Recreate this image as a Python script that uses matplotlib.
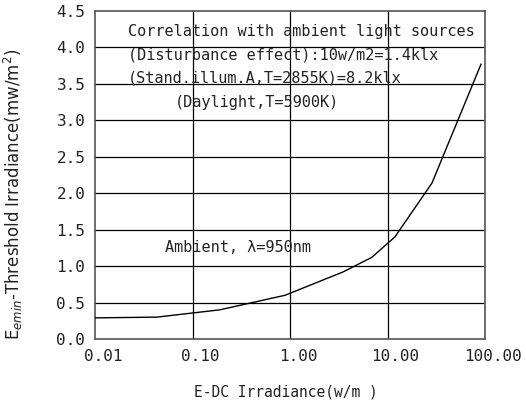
import matplotlib
matplotlib.use("Agg")
import matplotlib.pyplot as plt
import matplotlib.transforms as mtransforms

irradiance = [0.01, 0.043, 0.19, 0.89, 3.5, 6.9, 11.9, 28.6, 91]
threshold = [0.29, 0.30, 0.40, 0.60, 0.92, 1.12, 1.40, 2.14, 3.77]
x_ticks = [0.01, 0.1, 1, 10, 100]
x_labels = ["0.01", "0.10", "1.00", "10.00", "100.00"]
y_ticks = [0.0, 0.5, 1.0, 1.5, 2.0, 2.5, 3.0, 3.5, 4.0, 4.5]
y_labels = ["0.0", "0.5", "1.0", "1.5", "2.0", "2.5", "3.0", "3.5", "4.0", "4.5"]

plt.rcParams['font.family'] = ['DejaVu Sans Mono', 'DejaVu Sans']

fig = plt.figure(figsize=(5.26, 4.03), dpi=100)
ax = fig.add_axes([95/526, 1-339/403, 390/526, 328/403])
ax.set_xscale('log')
ax.set_xlim(0.01, 100)
ax.set_ylim(0, 4.5)

for y in y_ticks[1:-1]:
    ax.axhline(y, color='black', lw=0.9, zorder=1)
for x in x_ticks[1:-1]:
    ax.axvline(x, color='black', lw=0.9, zorder=1)

ax.plot(irradiance, threshold, color='black', lw=1.0, zorder=3)

ax.set_xticks(x_ticks)
ax.set_xticklabels(x_labels, fontsize=11.5, color='#222222')
ax.xaxis.set_minor_locator(matplotlib.ticker.NullLocator())
ax.set_yticks(y_ticks)
ax.set_yticklabels(y_labels, fontsize=11.5, color='#222222')
ax.tick_params(length=0, pad=7)
offset = mtransforms.ScaledTranslation(8/100, 0, fig.dpi_scale_trans)
for lab in ax.get_xticklabels():
    lab.set_transform(lab.get_transform() + offset)

for s in ax.spines.values():
    s.set_color('#555555')
    s.set_linewidth(1.2)

ax.set_xlabel("E-DC Irradiance(w/m )", fontsize=10.5, color='#222222')
ax.xaxis.set_label_coords(0.49, -0.14)
ax.set_ylabel("E$_{emin}$-Threshold Irradiance(mw/m$^2$)", fontsize=12,
              color='#222222', family='DejaVu Sans')
ax.yaxis.set_label_coords(-0.18, 0.44)

tk = dict(fontsize=11, color='#222222', va='center', ha='left', zorder=4)
ax.text(0.0218, 4.22, "Correlation with ambient light sources", **tk)
ax.text(0.0218, 3.89, "(Disturbance effect):10w/m2=1.4klx", **tk)
ax.text(0.0218, 3.58, "(Stand.illum.A,T=2855K)=8.2klx", **tk)
ax.text(0.066, 3.24, "(Daylight,T=5900K)", **tk)
ax.text(0.052, 1.25, "Ambient, \u03bb=950nm", **tk)

fig.savefig("out.png", dpi=100)
